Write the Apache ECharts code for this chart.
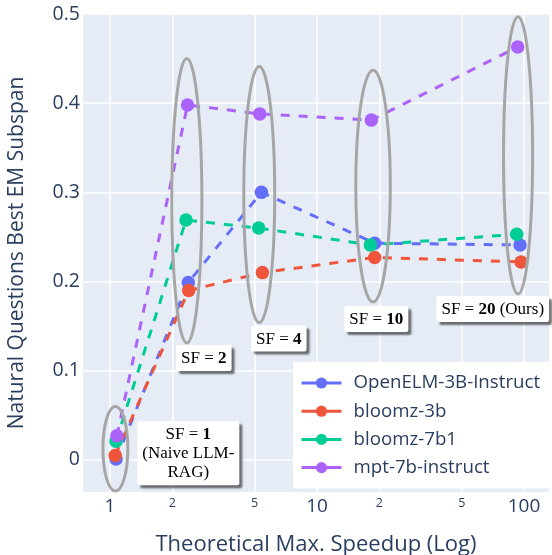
<!DOCTYPE html>
<html>
<head>
<meta charset="utf-8">
<script src="https://cdn.jsdelivr.net/npm/echarts@6/dist/echarts.min.js"></script>
<style>html,body{margin:0;padding:0;background:#fff}#c{width:552px;height:555px}</style>
</head>
<body>
<div id="c"></div>
<script>
// ---- data ----
const seriesNames = ['OpenELM-3B-Instruct', 'bloomz-3b', 'bloomz-7b1', 'mpt-7b-instruct'];
const xOpenELM = [1.07, 2.39, 5.39, 19.0, 95.7];
const yOpenELM = [0.001, 0.199, 0.300, 0.243, 0.241];
const xBloom3 = [1.06, 2.40, 5.45, 19.0, 96.8];
const yBloom3 = [0.005, 0.190, 0.210, 0.227, 0.222];
const xBloom7 = [1.07, 2.33, 5.23, 18.1, 92.2];
const yBloom7 = [0.021, 0.269, 0.260, 0.241, 0.253];
const xMpt = [1.08, 2.37, 5.29, 18.3, 93.2];
const yMpt = [0.027, 0.398, 0.388, 0.381, 0.463];

const xTickValues = [1, 2, 5, 10, 20, 50, 100];
const xTickLabels = ['1', '2', '5', '10', '2', '5', '100'];
const yTickValues = [0, 0.1, 0.2, 0.3, 0.4, 0.5];
const yTickLabels = ['0', '0.1', '0.2', '0.3', '0.4', '0.5'];

// ellipses (bounding box in data units)
const ellX0 = [0.925, 1.99, 4.43, 15.4, 79.6];
const ellX1 = [1.22, 2.78, 6.25, 22.6, 110];
const ellY0 = [-0.035, 0.131, 0.154, 0.177, 0.186];
const ellY1 = [0.060, 0.450, 0.441, 0.437, 0.497];

// annotations
const annX = [2.39, 2.84, 6.54, 19.35, 70.6];
const annY = [0.0074, 0.1142, 0.136, 0.1581, 0.1693];
const annText = ['SF = {b|1}\n(Naive LLM-\nRAG)', 'SF = {b|2}', 'SF = {b|4}', 'SF = {b|10}', 'SF = {b|20} (Ours)'];

const colors = ['#636efa', '#EF553B', '#00cc96', '#ab63fa'];
const xs = [xOpenELM, xBloom3, xBloom7, xMpt];
const ys = [yOpenELM, yBloom3, yBloom7, yMpt];

const txt = '#2a3f5f';
const sans = '"Open Sans", "Noto Sans", sans-serif';
const serif = '"Liberation Serif", "DejaVu Serif", serif';

const chart = echarts.init(document.getElementById('c'));

const lineSeries = seriesNames.map((n, i) => ({
  name: n,
  type: 'line',
  data: xs[i].map((x, j) => [x, ys[i][j]]),
  symbol: 'circle',
  symbolSize: 13.5,
  color: colors[i],
  itemStyle: { color: colors[i] },
  lineStyle: { color: colors[i], width: 3, type: [9, 9] },
  z: 2 + i
}));

const ellData = ellX0.map((v, i) => [v, ellX1[i], ellY0[i], ellY1[i]]);
const annData = annX.map((v, i) => [v, annY[i], i]);

chart.setOption({
  animation: false,
  backgroundColor: '#fff',
  grid: { left: 83, right: 3, top: 14, bottom: 63, backgroundColor: '#E5ECF6', show: true, borderWidth: 0, containLabel: false, outerBoundsMode: 'none' },
  legend: {
    orient: 'vertical',
    left: 293, top: 362,
    backgroundColor: '#fff',
    padding: [11, 11, 11, 7],
    itemWidth: 40, itemHeight: 14, itemGap: 8.2,
    data: seriesNames,
    lineStyle: { type: 'solid', width: 3 },
    textStyle: { color: txt, fontSize: 18.7, fontFamily: sans, lineHeight: 20, padding: [0, 0, 0, 7] }
  },
  xAxis: {
    type: 'log', logBase: 10, min: 0.741, max: 132,
    name: 'Theoretical Max. Speedup (Log)', nameLocation: 'middle', nameGap: 42,
    nameTextStyle: { color: txt, fontSize: 22, fontFamily: sans },
    axisLine: { show: false },
    axisTick: { show: false, customValues: xTickValues },
    splitLine: { show: true, lineStyle: { color: '#fff', width: 1.5 } },
    minorSplitLine: { show: false },
    axisLabel: {
      customValues: xTickValues, margin: 5, color: txt, fontFamily: sans,
      formatter: v => {
        const i = xTickValues.findIndex(t => Math.abs(t - v) / t < 1e-6);
        const lab = i >= 0 ? xTickLabels[i] : '';
        return (v === 1 || v === 10 || v === 100) ? '{big|' + lab + '}' : '{small|' + lab + '}';
      },
      rich: {
        big: { fontSize: 19, color: txt, fontFamily: sans },
        small: { fontSize: 12.5, color: txt, fontFamily: sans, padding: [0, 0, 5, 0] }
      }
    }
  },
  yAxis: {
    type: 'value', min: -0.036, max: 0.5,
    name: 'Natural Questions Best EM Subspan', nameLocation: 'middle', nameGap: 55,
    nameTextStyle: { color: txt, fontSize: 21, fontFamily: sans },
    axisLine: { show: false },
    axisTick: { show: false, customValues: yTickValues },
    splitLine: { show: true, lineStyle: { color: '#fff', width: 1.5 } },
    axisLabel: {
      customValues: yTickValues, margin: 3, color: txt, fontSize: 19.5, fontFamily: sans,
      formatter: v => {
        const i = yTickValues.findIndex(t => Math.abs(t - v) < 1e-9);
        return i >= 0 ? yTickLabels[i] : '';
      }
    }
  },
  series: lineSeries.concat([
    {
      type: 'custom',
      name: 'ellipses',
      data: ellData,
      encode: { x: [0, 1], y: [2, 3] },
      silent: true,
      z: 10,
      renderItem: (params, api) => {
        const p0 = api.coord([api.value(0), api.value(2)]);
        const p1 = api.coord([api.value(1), api.value(3)]);
        return {
          type: 'ellipse',
          shape: { cx: (p0[0] + p1[0]) / 2, cy: (p0[1] + p1[1]) / 2, rx: Math.abs(p1[0] - p0[0]) / 2, ry: Math.abs(p1[1] - p0[1]) / 2 },
          style: { fill: 'none', stroke: '#a6a6a6', lineWidth: 3 }
        };
      }
    },
    {
      type: 'custom',
      name: 'annotations',
      data: annData,
      encode: { x: 0, y: 1 },
      silent: true,
      z: 20,
      renderItem: (params, api) => {
        const p = api.coord([api.value(0), api.value(1)]);
        return {
          type: 'text',
          x: p[0], y: p[1],
          style: {
            text: annText[api.value(2)],
            fill: '#000',
            fontSize: 17,
            fontFamily: serif,
            lineHeight: 19,
            align: 'center',
            verticalAlign: 'middle',
            backgroundColor: '#fff',
            padding: [4, 5, 3, 5],
            borderRadius: 2,
            shadowColor: 'rgba(0,0,0,0.55)',
            shadowBlur: 2,
            shadowOffsetX: 3,
            shadowOffsetY: 3,
            rich: { b: { fontWeight: 'bold', fontSize: 17, fontFamily: serif, fill: '#000', lineHeight: 19 } }
          }
        };
      }
    }
  ])
});
</script>
</body>
</html>
